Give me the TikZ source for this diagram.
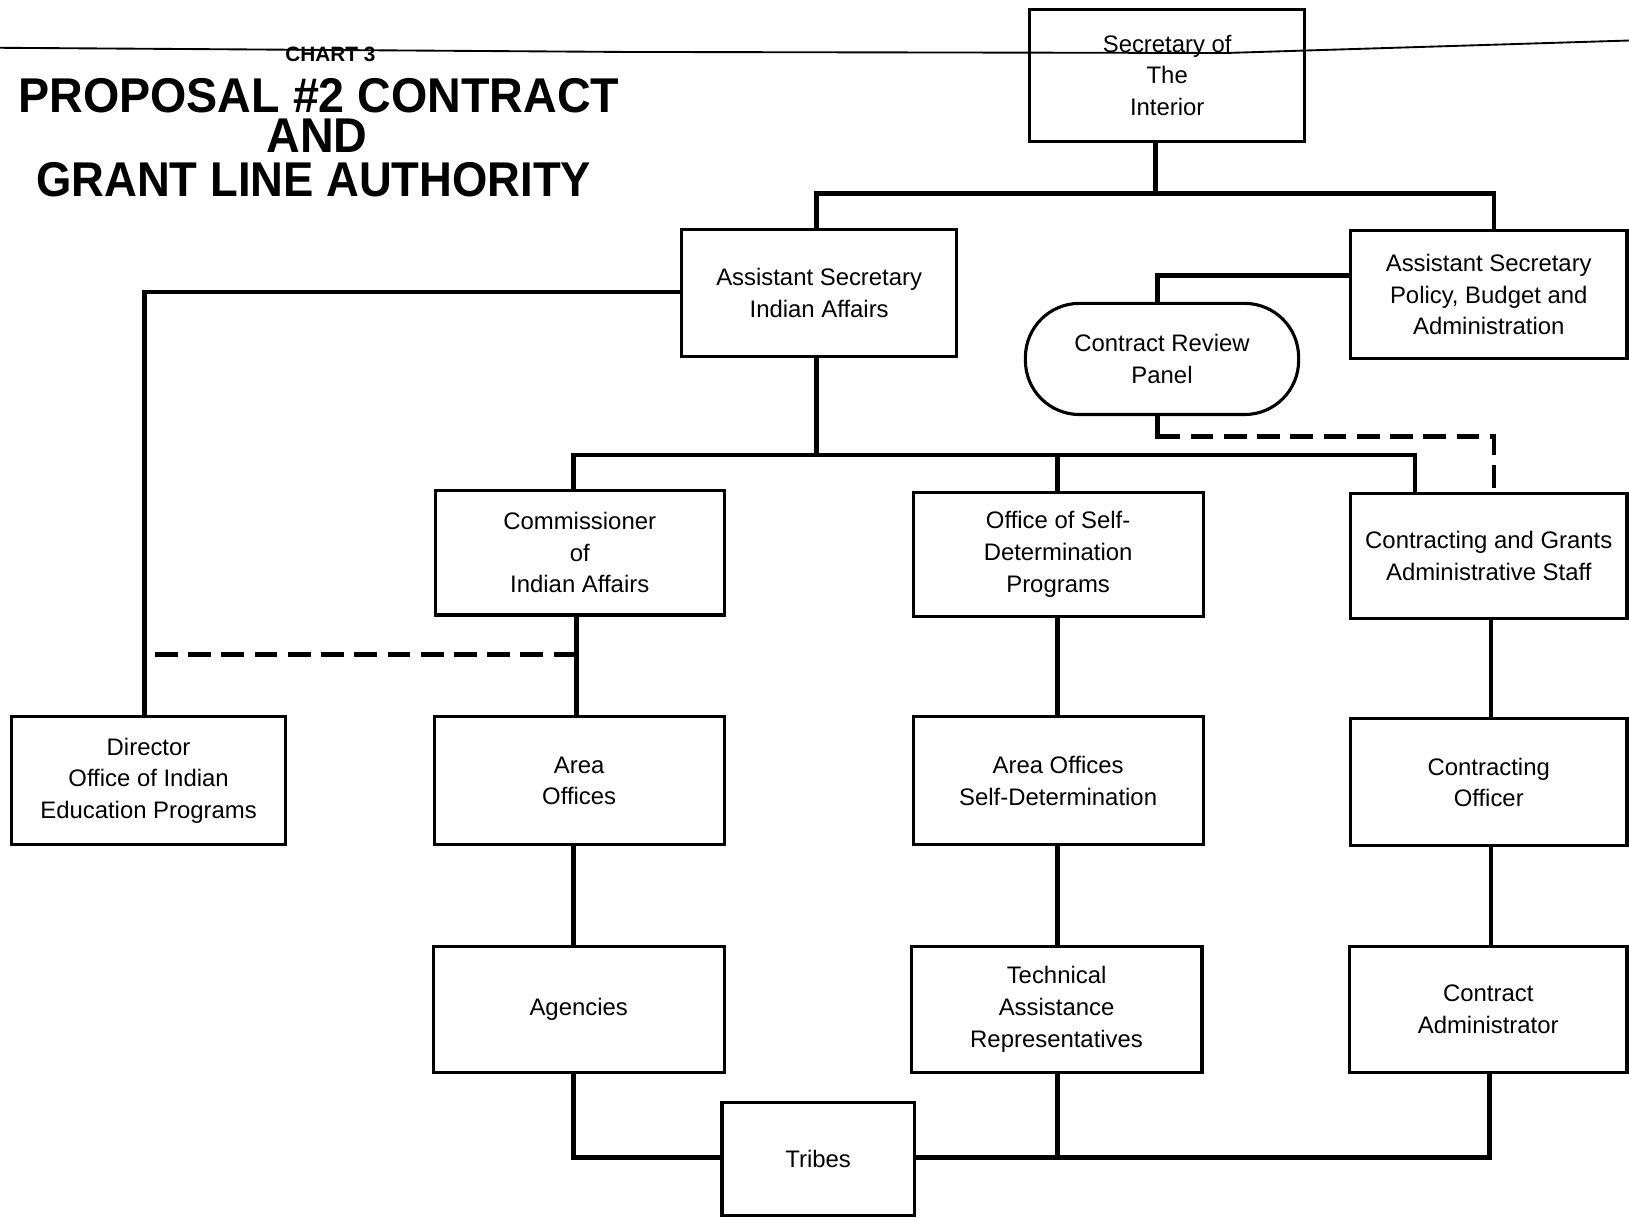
\documentclass[tikz,border=0pt]{standalone}
\usepackage{fontspec}
\setmainfont{Liberation Sans}
\begin{document}
\begin{tikzpicture}[x=1pt,y=-1pt,
  box/.style={draw, line width=3pt, inner sep=0pt, align=center,
    font=\fontsize{23}{30.5}\selectfont},
  conn/.style={line width=4.5pt, line cap=rect},
  dconn/.style={line width=4.5pt, dash pattern=on 22pt off 10pt},
  ttl/.style={inner sep=0pt, font=\fontsize{47}{47}\bfseries}]
\useasboundingbox (0,0) rectangle (1568,1172);
\fill[white] (0,0) rectangle (1568,1172);
% top rule
\draw[line width=1.8pt] (0,46) -- (600,50) -- (1180,51) -- (1568,39);
% title
\node[inner sep=0pt, font=\fontsize{20}{20}\bfseries] (chart) at (318,52) {CHART 3};
\node[ttl] (t1) at (307,92) {\scalebox{0.955}[1]{PROPOSAL \#2 CONTRACT}};
\node[ttl] (t2) at (305,131) {\scalebox{0.955}[1]{AND}};
\node[ttl] (t3) at (302,173) {\scalebox{0.93}[1]{GRANT LINE AUTHORITY}};
% boxes
\node[box, minimum width=265, minimum height=127] (sec) at (1123.5,72.5) {Secretary of\\The\\Interior};
\node[box, minimum width=265, minimum height=122] (asia) at (788.5,282) {Assistant Secretary\\Indian Affairs};
\node[box, minimum width=266, minimum height=123] (aspba) at (1433,283.5) {Assistant Secretary\\Policy, Budget and\\Administration};
\node[box, minimum width=263, minimum height=107, rounded corners=52pt] (crp) at (1118.5,345.5) {Contract Review\\Panel};
\node[box, minimum width=278, minimum height=120] (comm) at (558,532) {Commissioner\\of\\Indian Affairs};
\node[box, minimum width=279, minimum height=119] (osd) at (1018.5,533.5) {Office of Self-\\Determination\\Programs};
\node[box, minimum width=266, minimum height=120] (cgas) at (1433,535) {Contracting and Grants\\Administrative Staff};
\node[box, minimum width=264, minimum height=123] (dir) at (143,751.5) {Director\\Office of Indian\\Education Programs};
\node[box, minimum width=279, minimum height=123] (ao) at (557.5,751.5) {Area\\Offices};
\node[box, minimum width=279, minimum height=123] (aosd) at (1018.5,751.5) {Area Offices\\Self-Determination};
\node[box, minimum width=266, minimum height=122] (co) at (1433,753) {Contracting\\Officer};
\node[box, minimum width=280, minimum height=121] (ag) at (557,971.5) {Agencies};
\node[box, minimum width=280, minimum height=121] (tar) at (1017,971.5) {Technical\\Assistance\\Representatives};
\node[box, minimum width=267, minimum height=121] (ca) at (1432.5,971.5) {Contract\\Administrator};
\node[box, minimum width=185, minimum height=109] (tr) at (787.5,1115.5) {Tribes};
% junction coordinates
\coordinate (h1m) at (1112,186);
\coordinate (h1l) at (786,186);
\coordinate (h1r) at (1438,186);
\coordinate (p1) at (1114,265);
\coordinate (d1) at (1114,420);
\coordinate (d2) at (1438,420);
\coordinate (h2m) at (786,438);
\coordinate (h2l) at (552,438);
\coordinate (h2c) at (1018,438);
\coordinate (h2r) at (1362,438);
\coordinate (l1) at (139,281);
\coordinate (l2) at (139,630);
\coordinate (l3) at (555,630);
\coordinate (v3) at (1435,700);
\coordinate (b1) at (552,1114);
\coordinate (b2) at (1018,1114);
\coordinate (b3) at (1434,1114);
% connectors
\draw[conn] (sec.south -| h1m) -- (h1m);
\draw[conn] (asia.north -| h1l) -- (h1l) -- (h1r) -- (aspba.north -| h1r);
\draw[conn] (aspba.west |- p1) -- (p1) -- (crp.north -| p1);
\draw[conn] (crp.south -| d1) -- (d1);
\draw[dconn] (d1) -- (d2) -- (cgas.north -| d2);
\draw[conn] (asia.south -| h2m) -- (h2m);
\draw[conn] (comm.north -| h2l) -- (h2l) -- (h2r) -- (cgas.north -| h2r);
\draw[conn] (h2c) -- (osd.north -| h2c);
\draw[conn] (asia.west |- l1) -- (l1) -- (dir.north -| l1);
\draw[dconn] (l3) -- (l2);
\draw[conn] (comm.south -| l3) -- (ao.north -| l3);
\draw[conn] (osd.south -| h2c) -- (aosd.north -| h2c);
\draw[conn] (cgas.south -| v3) -- (co.north -| v3);
\draw[conn] (ao.south -| h2l) -- (ag.north -| h2l);
\draw[conn] (aosd.south -| h2c) -- (tar.north -| h2c);
\draw[conn] (co.south -| v3) -- (ca.north -| v3);
\draw[conn] (ag.south -| b1) -- (b1) -- (tr.west |- b1);
\draw[conn] (tr.east |- b1) -- (b3) -- (ca.south -| b3);
\draw[conn] (tar.south -| b2) -- (b2);
\end{tikzpicture}
\end{document}
